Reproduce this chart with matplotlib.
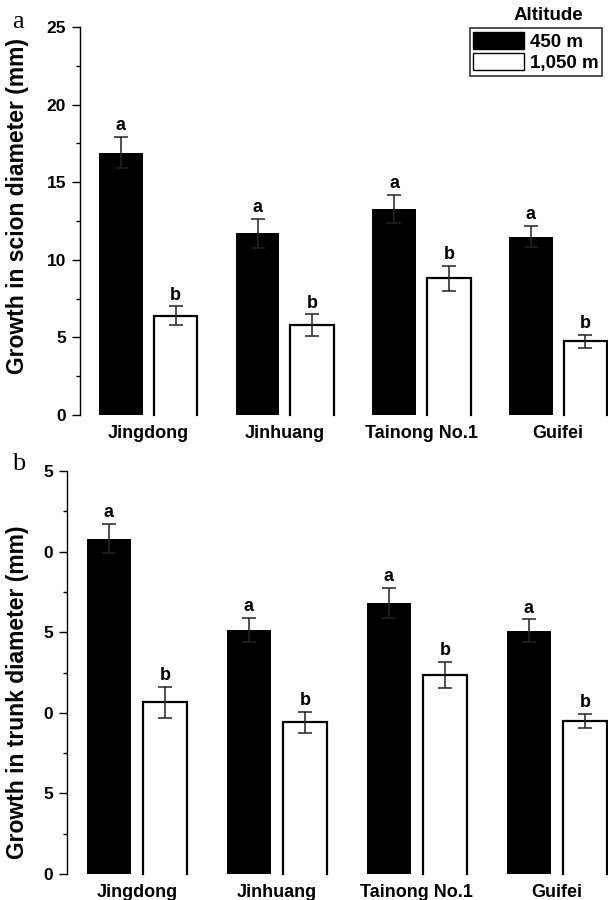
import matplotlib
matplotlib.use("Agg")
import matplotlib.pyplot as plt
import numpy as np
from matplotlib.patches import Patch
from matplotlib.ticker import FixedFormatter, FixedLocator, MultipleLocator

plt.rcParams['font.family'] = ['Liberation Sans', 'DejaVu Sans']

cultivars = ["Jingdong", "Jinhuang", "Tainong No.1", "Guifei"]
series = ["450 m", "1,050 m"]

scion_450 = [16.9, 11.7, 13.3, 11.5]
scion_450_err = [1.0, 0.93, 0.9, 0.7]
scion_1050 = [6.4, 5.8, 8.8, 4.75]
scion_1050_err = [0.6, 0.68, 0.8, 0.42]
scion_letters_450 = ["a", "a", "a", "a"]
scion_letters_1050 = ["b", "b", "b", "b"]

trunk_450 = [20.8, 15.15, 16.8, 15.1]
trunk_450_err = [0.9, 0.75, 0.95, 0.7]
trunk_1050 = [10.65, 9.4, 12.35, 9.5]
trunk_1050_err = [0.97, 0.65, 0.83, 0.45]
trunk_letters_450 = ["a", "a", "a", "a"]
trunk_letters_1050 = ["b", "b", "b", "b"]

yticks = [0, 5, 10, 15, 20, 25]
scion_ticklabels = ["0", "5", "10", "15", "20", "25"]
trunk_ticklabels = ["0", "5", "0", "5", "0", "5"]

W, H = 608, 900
fig = plt.figure(figsize=(W / 100, H / 100), dpi=100)

ax1 = fig.add_axes([80 / W, 1 - 415 / H, 1 - 80 / W, (415 - 27) / H])
ax2 = fig.add_axes([67 / W, 1 - 874 / H, 1 - 67 / W, (874 - 471) / H])

width = 0.32
off = 0.2


def draw_panel(ax, v450, e450, v1050, e1050, l450, l1050, ylabel, ticklabels, label_xy):
    x = np.arange(len(cultivars))
    x1 = x - off
    x2 = x + off
    ax.bar(x1, v450, width, color="black", edgecolor="black", linewidth=0, zorder=2)
    ax.bar(x2, v1050, width, color="white", edgecolor="none", linewidth=0, zorder=2)
    # open bars: outline on left, top and right only
    for xi, vi in zip(x2, v1050):
        ax.plot([xi - width / 2, xi - width / 2, xi + width / 2, xi + width / 2],
                [0, vi, vi, 0], color="black", lw=1.6, zorder=3,
                solid_joinstyle="miter", clip_on=False)
    ax.errorbar(x1, v450, yerr=e450, fmt="none", ecolor="#222222", elinewidth=1.1,
                capsize=5, capthick=1.1, zorder=4)
    ax.errorbar(x2, v1050, yerr=e1050, fmt="none", ecolor="#222222", elinewidth=1.1,
                capsize=5, capthick=1.1, zorder=4)
    for xi, vi, ei, t in zip(x1, v450, e450, l450):
        ax.annotate(t, (xi, vi + ei), xytext=(0, 2), textcoords="offset points",
                    ha="center", va="bottom", fontsize=13, fontweight="bold")
    for xi, vi, ei, t in zip(x2, v1050, e1050, l1050):
        ax.annotate(t, (xi, vi + ei), xytext=(0, 2), textcoords="offset points",
                    ha="center", va="bottom", fontsize=13, fontweight="bold")

    ax.set_xlim(-0.5, 3.365)
    ax.set_ylim(0, 25)
    ax.yaxis.set_major_locator(FixedLocator(yticks))
    ax.yaxis.set_major_formatter(FixedFormatter(ticklabels))
    ax.yaxis.set_minor_locator(MultipleLocator(2.5))
    ax.tick_params(axis="y", which="major", direction="out", length=6, width=1,
                   labelsize=12.5, pad=4)
    ax.tick_params(axis="y", which="minor", direction="out", length=3, width=1)
    for lab in ax.get_yticklabels():
        lab.set_fontweight("bold")
    ax.set_xticks(x)
    ax.set_xticklabels(cultivars, fontsize=13, fontweight="bold")
    ax.tick_params(axis="x", length=0, pad=7)
    for s in ["top", "right", "bottom"]:
        ax.spines[s].set_visible(False)
    ax.spines["left"].set_linewidth(1)
    ax.set_ylabel(ylabel, fontsize=16.5, fontweight="bold")
    ax.yaxis.set_label_coords(label_xy[0], label_xy[1])


draw_panel(ax1, scion_450, scion_450_err, scion_1050, scion_1050_err,
           scion_letters_450, scion_letters_1050,
           "Growth in scion diameter (mm)", scion_ticklabels,
           ((29 - 80) / (W - 80), 1 - (206 - 27) / (415 - 27)))
draw_panel(ax2, trunk_450, trunk_450_err, trunk_1050, trunk_1050_err,
           trunk_letters_450, trunk_letters_1050,
           "Growth in trunk diameter (mm)", trunk_ticklabels,
           ((29 - 67) / (W - 67), 1 - (692 - 471) / (874 - 471)))

# panel letters
fig.text(12 / W, 1 - 22 / H, "a", fontsize=19, family="Liberation Serif",
         ha="left", va="center")
fig.text(12 / W, 1 - 464 / H, "b", fontsize=19, family="Liberation Serif",
         ha="left", va="center")

# legend
handles = [Patch(facecolor="black", edgecolor="black", label=series[0]),
           Patch(facecolor="white", edgecolor="black", label=series[1])]
leg = fig.legend(handles=handles, loc="upper right",
                 bbox_to_anchor=(602 / W, 1 - 28 / H),
                 frameon=True, fancybox=False, edgecolor="black",
                 prop={"weight": "bold", "size": 13.5},
                 handlelength=2.7, handleheight=1.0, handletextpad=0.3,
                 borderpad=0.2, labelspacing=0.15, borderaxespad=0)
leg.get_frame().set_linewidth(1.2)
fig.text(548 / W, 1 - 15 / H, "Altitude", fontsize=13.5, fontweight="bold",
         ha="center", va="center")

fig.savefig("out.png", dpi=100)
